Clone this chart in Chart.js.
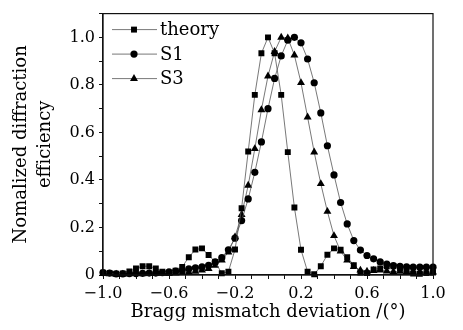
<!DOCTYPE html>
<html>
<head>
<meta charset="utf-8">
<script src="https://cdn.jsdelivr.net/npm/chart.js@4/dist/chart.umd.min.js"></script>
<style>
html, body { margin: 0; padding: 0; background: #fff; }
</style>
</head>
<body>
<canvas id="chart" width="463" height="330"></canvas>
<script>
// Bragg mismatch deviation (deg)
const deviation = [
  -1.00, -0.96, -0.92, -0.88, -0.84, -0.80, -0.76, -0.72, -0.68, -0.64,
  -0.60, -0.56, -0.52, -0.48, -0.44, -0.40, -0.36, -0.32, -0.28, -0.24,
  -0.20, -0.16, -0.12, -0.08, -0.04, 0.00, 0.04, 0.08, 0.12, 0.16,
  0.20, 0.24, 0.28, 0.32, 0.36, 0.40, 0.44, 0.48, 0.52, 0.56,
  0.60, 0.64, 0.68, 0.72, 0.76, 0.80, 0.84, 0.88, 0.92, 0.96, 1.00
];

const theory = [
  0.010, 0.008, 0.005, 0.006, 0.015, 0.028, 0.037, 0.037, 0.028, 0.014,
  0.008, 0.018, 0.034, 0.075, 0.107, 0.112, 0.084, 0.055, 0.007, 0.014,
  0.107, 0.281, 0.520, 0.758, 0.933, 1.000, 0.933, 0.758, 0.517, 0.284,
  0.106, 0.014, 0.003, 0.037, 0.085, 0.112, 0.106, 0.075, 0.041, 0.010,
  0.008, 0.023, 0.028, 0.037, 0.037, 0.028, 0.015, 0.006, 0.005, 0.008, 0.010
];

const s1 = [
  0.010, 0.008, 0.005, 0.005, 0.006, 0.006, 0.007, 0.008, 0.008, 0.010,
  0.013, 0.016, 0.020, 0.026, 0.030, 0.034, 0.041, 0.055, 0.073, 0.106,
  0.155, 0.229, 0.320, 0.432, 0.560, 0.700, 0.827, 0.922, 0.988, 1.000,
  0.977, 0.909, 0.809, 0.682, 0.544, 0.421, 0.305, 0.215, 0.145, 0.105,
  0.082, 0.068, 0.055, 0.046, 0.040, 0.036, 0.034, 0.033, 0.033, 0.033, 0.033
];

const s3 = [
  0.005, 0.004, 0.003, 0.003, 0.004, 0.005, 0.004, 0.005, 0.005, 0.006,
  0.007, 0.008, 0.010, 0.012, 0.015, 0.020, 0.027, 0.040, 0.062, 0.096,
  0.160, 0.254, 0.377, 0.531, 0.695, 0.837, 0.940, 1.000, 0.997, 0.925,
  0.809, 0.664, 0.517, 0.384, 0.267, 0.165, 0.100, 0.062, 0.035, 0.020,
  0.015, 0.018, 0.020, 0.016, 0.014, 0.015, 0.013, 0.014, 0.012, 0.012, 0.012
];

const seriesNames = ['theory', 'S1', 'S3'];
const xTitle = 'Bragg mismatch deviation /(°)';
const yTitle = ['Nomalized diffraction', 'efficiency'];

const FONT = 'DejaVu Serif';
const LINE = '#555';

function toPoints(ys) {
  return deviation.map((x, i) => ({ x: x, y: ys[i] }));
}

function makeSet(label, ys, style, radius) {
  return {
    label: label,
    data: toPoints(ys),
    borderColor: LINE,
    borderWidth: 0.8,
    pointStyle: style,
    pointRadius: radius,
    pointBackgroundColor: '#000',
    pointBorderColor: '#000',
    pointBorderWidth: 0,
    tension: 0,
    clip: 8
  };
}

function fmt(v) {
  return v.toFixed(1).replace('-', '\u2212');
}

// box round the plot area
const framePlugin = {
  id: 'frame',
  afterDraw(chart) {
    const a = chart.chartArea;
    const ctx = chart.ctx;
    ctx.save();
    ctx.strokeStyle = '#111';
    ctx.lineWidth = 1.2;
    ctx.strokeRect(a.left, a.top, a.right - a.left, a.bottom - a.top);
    ctx.restore();
  }
};

// legend with line through the marker, top left inside the plot
const legendPlugin = {
  id: 'lineLegend',
  afterDraw(chart) {
    const ctx = chart.ctx;
    const a = chart.chartArea;
    ctx.save();
    chart.data.datasets.forEach((ds, i) => {
      const y = a.top + 16 + i * 24.5;
      const x0 = a.left + 9;
      ctx.strokeStyle = LINE;
      ctx.lineWidth = 0.8;
      ctx.beginPath();
      ctx.moveTo(x0, y);
      ctx.lineTo(x0 + 45, y);
      ctx.stroke();
      ctx.fillStyle = '#000';
      Chart.helpers.drawPoint(ctx, {
        pointStyle: ds.pointStyle,
        radius: ds.pointRadius,
        rotation: 0,
        borderWidth: 0
      }, x0 + 22, y);
      ctx.font = '18px "' + FONT + '"';
      ctx.textAlign = 'left';
      ctx.textBaseline = 'middle';
      ctx.fillText(ds.label, x0 + 48, y + 1);
    });
    ctx.restore();
  }
};

const ctx = document.getElementById('chart');

new Chart(ctx, {
  type: 'line',
  data: {
    datasets: [
      makeSet(seriesNames[0], theory, 'rect', 4.2),
      makeSet(seriesNames[1], s1, 'circle', 3.6),
      makeSet(seriesNames[2], s3, 'triangle', 4.6)
    ]
  },
  options: {
    responsive: false,
    animation: false,
    layout: { padding: { top: 8, right: 30, left: 0, bottom: 0 } },
    plugins: {
      legend: { display: false },
      tooltip: { enabled: false }
    },
    scales: {
      x: {
        type: 'linear',
        min: -1,
        max: 1,
        afterFit: s => { s.height = 55; },
        ticks: {
          stepSize: 0.1,
          autoSkip: false,
          maxRotation: 0,
          padding: 5,
          color: '#000',
          font: { family: FONT, size: 16 },
          callback: function(value) {
            const k = Math.round(value * 10) + 10;
            return k % 4 === 0 ? fmt(value) : '';
          }
        },
        grid: { drawOnChartArea: false, tickLength: 4, color: '#111' },
        border: { color: '#111', width: 1.2 },
        title: {
          display: true,
          text: xTitle,
          color: '#000',
          font: { family: FONT, size: 18 },
          padding: { top: 0, bottom: 7 }
        }
      },
      y: {
        min: 0,
        max: 1.1,
        afterFit: s => { s.width = 103; },
        ticks: {
          stepSize: 0.1,
          autoSkip: false,
          padding: 4,
          color: '#000',
          font: { family: FONT, size: 16 },
          callback: function(value) {
            const k = Math.round(value * 10);
            if (k === 0) return '0';
            if (k > 10) return '';
            return k % 2 === 0 ? fmt(value) : '';
          }
        },
        grid: { drawOnChartArea: false, tickLength: 4, color: '#111' },
        border: { color: '#111', width: 1.2 },
        title: {
          display: true,
          text: yTitle,
          color: '#000',
          font: { family: FONT, size: 18, lineHeight: 1.33 },
          padding: { top: 9, bottom: 0 }
        }
      }
    }
  },
  plugins: [framePlugin, legendPlugin]
});
</script>
</body>
</html>
